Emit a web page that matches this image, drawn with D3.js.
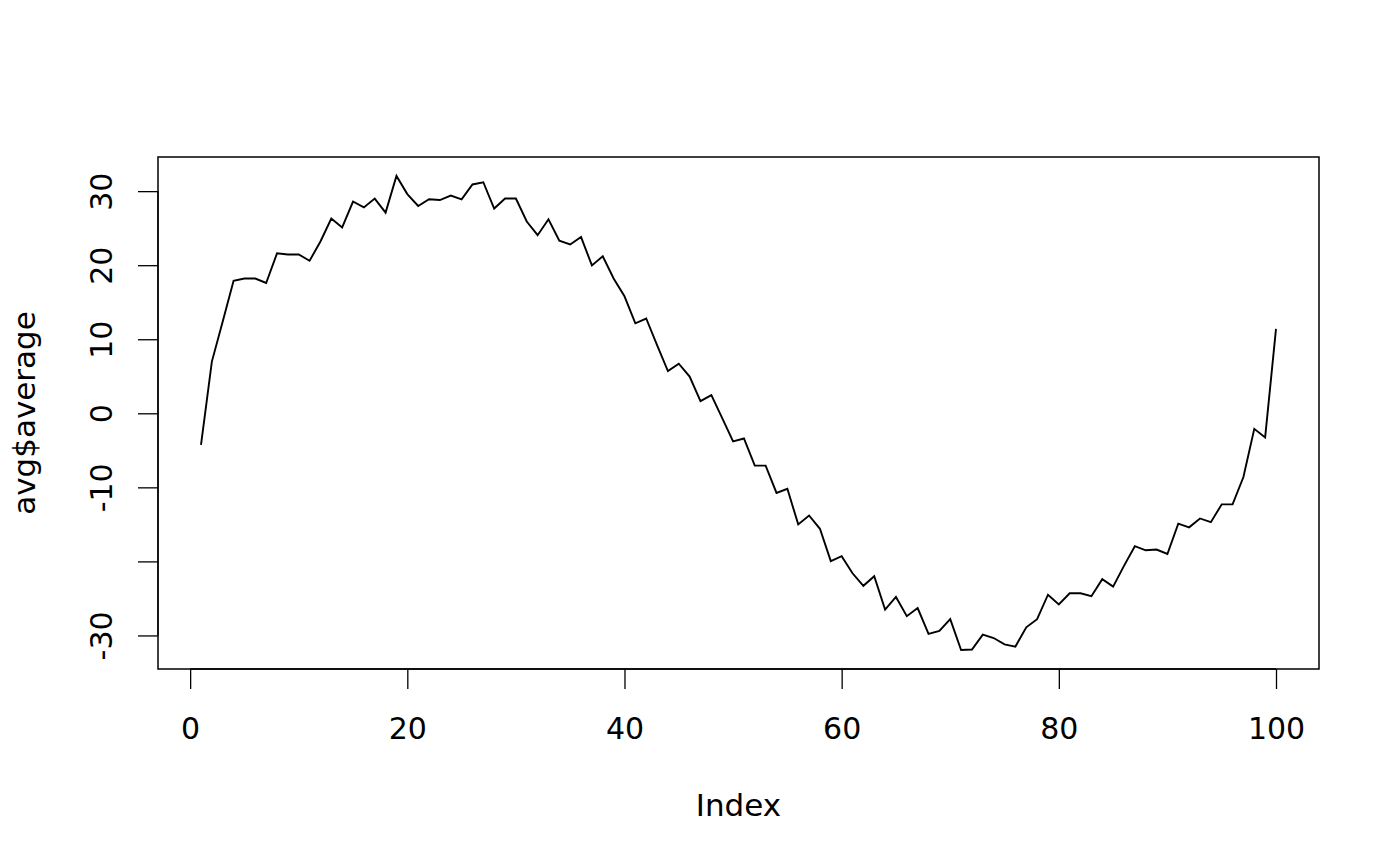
<!DOCTYPE html>
<html>
<head>
<meta charset="utf-8">
<script src="https://cdn.jsdelivr.net/npm/d3@7"></script>
<style>
  html, body { margin: 0; padding: 0; background: #fff; }
  svg text { font-family: "DejaVu Sans", sans-serif; fill: #000; }
</style>
</head>
<body>
<svg id="chart" width="1400" height="866"></svg>
<script>
const averageValues = [
  -4.25, 6.98, 12.4, 17.9, 18.2, 18.2, 17.6, 21.6, 21.45, 21.45,
  20.6, 23.2, 26.3, 25.1, 28.6, 27.8, 29.0, 27.1, 32.05, 29.6,
  28.0, 28.9, 28.8, 29.4, 28.9, 30.9, 31.2, 27.65, 29.0, 29.0,
  25.9, 24.05, 26.2, 23.3, 22.8, 23.8, 19.97, 21.2, 18.2, 15.8,
  12.15, 12.8, 9.2, 5.7, 6.7, 4.96, 1.64, 2.45, -0.65, -3.8,
  -3.4, -7.07, -7.07, -10.76, -10.2, -15.0, -13.8, -15.6, -19.97, -19.3,
  -21.6, -23.3, -22.0, -26.5, -24.8, -27.4, -26.3, -29.8, -29.4, -27.8,
  -31.97, -31.9, -29.9, -30.35, -31.2, -31.5, -28.9, -27.8, -24.5, -25.8,
  -24.3, -24.3, -24.7, -22.4, -23.4, -20.6, -17.95, -18.5, -18.4, -19.0,
  -14.9, -15.4, -14.2, -14.7, -12.3, -12.3, -8.6, -2.1, -3.26, 11.4
];
const indexValues = averageValues.map((_, i) => i + 1);
const xTicks = [0, 20, 40, 60, 80, 100];
const yTicks = [-30, -20, -10, 0, 10, 20, 30];
const yTickLabels = ["-30", "", "-10", "0", "10", "20", "30"];
const xTitle = "Index";
const yTitle = "avg$average";

const svg = d3.select("#chart");
const pLeft = 158, pRight = 1319, pTop = 157, pBottom = 669;
const tickFont = 30, titleFont = 31;

function padded(ext) {
  const r = ext[1] - ext[0];
  return [ext[0] - 0.04 * r, ext[1] + 0.04 * r];
}
const x = d3.scaleLinear().domain(padded(d3.extent(indexValues))).range([pLeft, pRight]);
const y = d3.scaleLinear().domain(padded(d3.extent(averageValues))).range([pBottom, pTop]);

const line = d3.line().x((d, i) => x(indexValues[i])).y(d => y(d));
svg.append("path")
  .datum(averageValues)
  .attr("d", line)
  .attr("fill", "none")
  .attr("stroke", "#000")
  .attr("stroke-width", 1.9)
  .attr("stroke-linejoin", "miter");

svg.append("rect")
  .attr("x", pLeft).attr("y", pTop)
  .attr("width", pRight - pLeft).attr("height", pBottom - pTop)
  .attr("fill", "none").attr("stroke", "#000").attr("stroke-width", 1.5);

const xAxis = d3.axisBottom(x).tickValues(xTicks).tickSize(20)
  .tickFormat(d3.format("d"));
const gx = svg.append("g").attr("transform", `translate(0,${pBottom})`).call(xAxis);
gx.select(".domain").attr("d", `M${x(xTicks[0])},0H${x(xTicks[xTicks.length-1])}`)
  .attr("stroke-width", 1.3);
gx.selectAll(".tick line").attr("stroke-width", 1.3);
gx.selectAll(".tick text")
  .attr("font-size", tickFont).attr("font-family", "DejaVu Sans")
  .attr("y", 70).attr("dy", null);

const yAxis = d3.axisLeft(y).tickValues(yTicks).tickSize(20)
  .tickFormat((d, i) => yTickLabels[i]);
const gy = svg.append("g").attr("transform", `translate(${pLeft},0)`).call(yAxis);
gy.select(".domain").attr("d", `M0,${y(yTicks[0])}V${y(yTicks[yTicks.length-1])}`)
  .attr("stroke-width", 1.3);
gy.selectAll(".tick line").attr("stroke-width", 1.3);
gy.selectAll(".tick text")
  .attr("font-size", tickFont).attr("font-family", "DejaVu Sans")
  .attr("x", null).attr("dy", null)
  .attr("text-anchor", "middle")
  .attr("transform", "translate(-46,0) rotate(-90)")
  .attr("y", 0);

svg.append("text")
  .attr("x", (pLeft + pRight) / 2).attr("y", 816)
  .attr("text-anchor", "middle").attr("font-size", titleFont)
  .text(xTitle);
svg.append("text")
  .attr("transform", `translate(35,${(pTop + pBottom) / 2}) rotate(-90)`)
  .attr("text-anchor", "middle").attr("font-size", titleFont)
  .text(yTitle);
</script>
</body>
</html>
